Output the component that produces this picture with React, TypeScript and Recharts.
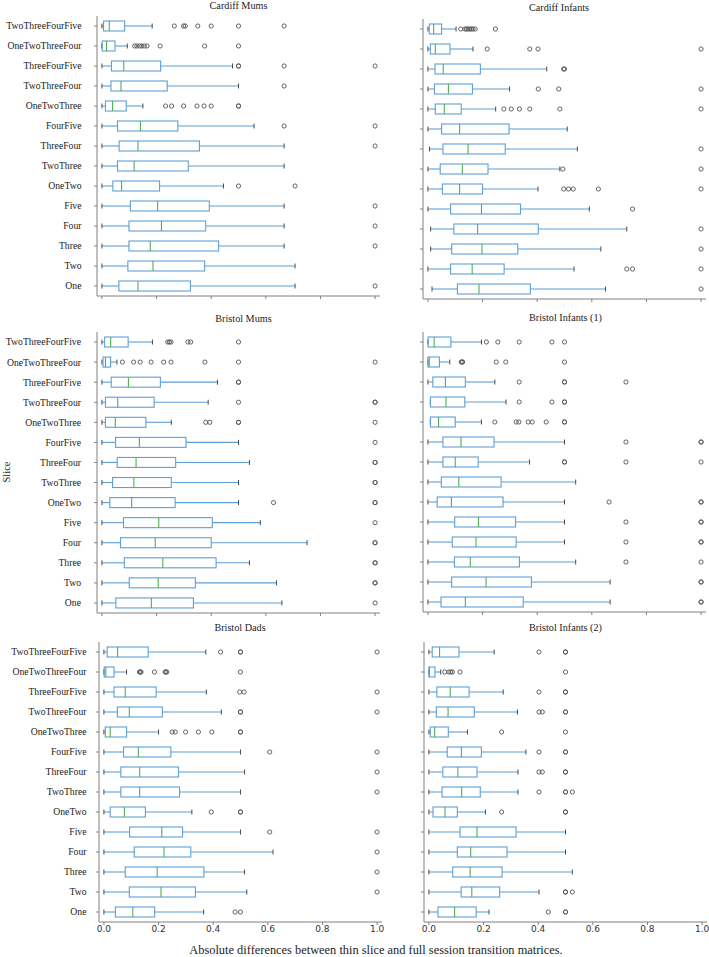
import { Bar, ComposedChart, XAxis, YAxis } from 'recharts';

const slices = [
  'TwoThreeFourFive',
  'OneTwoThreeFour',
  'ThreeFourFive',
  'TwoThreeFour',
  'OneTwoThree',
  'FourFive',
  'ThreeFour',
  'TwoThree',
  'OneTwo',
  'Five',
  'Four',
  'Three',
  'Two',
  'One',
];

const xTicks = [0, 0.2, 0.4, 0.6, 0.8, 1.0];

// each row: [whisker low, q1, median, q3, whisker high], top to bottom as in slices
const cardiffMumsBoxes = [
  [0, 0.006, 0.027, 0.083, 0.184],
  [0, 0.001, 0.017, 0.048, 0.093],
  [0, 0.035, 0.08, 0.215, 0.478],
  [0, 0.033, 0.07, 0.239, 0.5],
  [0, 0.013, 0.039, 0.089, 0.15],
  [0, 0.057, 0.141, 0.278, 0.557],
  [0, 0.063, 0.132, 0.357, 0.667],
  [0, 0.057, 0.118, 0.316, 0.667],
  [0, 0.04, 0.072, 0.211, 0.445],
  [0, 0.104, 0.204, 0.393, 0.667],
  [0, 0.099, 0.218, 0.38, 0.667],
  [0, 0.099, 0.177, 0.427, 0.667],
  [0, 0.095, 0.187, 0.376, 0.707],
  [0, 0.062, 0.132, 0.324, 0.707],
];
const cardiffMumsFliers = [
  [0.265, 0.299, 0.305, 0.351, 0.4, 0.5, 0.667],
  [0.12, 0.128, 0.138, 0.146, 0.155, 0.165, 0.213, 0.376, 0.5],
  [0.5, 0.5, 0.667, 1.0],
  [0.667],
  [0.233, 0.255, 0.299, 0.348, 0.374, 0.4, 0.5, 0.5],
  [0.667, 1.0],
  [1.0],
  [],
  [0.5, 0.707],
  [1.0],
  [1.0],
  [1.0],
  [],
  [1.0],
];

const cardiffInfantsBoxes = [
  [0, 0.005, 0.021, 0.05, 0.103],
  [0, 0.009, 0.027, 0.081, 0.165],
  [0, 0.026, 0.056, 0.192, 0.435],
  [0, 0.024, 0.075, 0.163, 0.299],
  [0, 0.027, 0.06, 0.122, 0.248],
  [0, 0.05, 0.116, 0.297, 0.51],
  [0.006, 0.055, 0.147, 0.283, 0.547],
  [0, 0.045, 0.126, 0.22, 0.483],
  [0, 0.053, 0.116, 0.2, 0.403],
  [0, 0.083, 0.196, 0.339, 0.591],
  [0.01, 0.095, 0.182, 0.404, 0.728],
  [0.01, 0.087, 0.198, 0.329, 0.633],
  [0, 0.083, 0.162, 0.279, 0.535],
  [0.015, 0.108, 0.187, 0.375, 0.65],
];
const cardiffInfantsFliers = [
  [0.12, 0.135, 0.141, 0.147, 0.153, 0.159, 0.165, 0.173, 0.247],
  [0.217, 0.373, 0.403, 1.0],
  [0.497, 0.5],
  [0.404, 0.479, 1.0],
  [0.278, 0.305, 0.335, 0.373, 0.483, 1.0],
  [],
  [1.0],
  [0.494, 1.0],
  [0.497, 0.515, 0.532, 0.624, 1.0],
  [0.749],
  [1.0],
  [1.0],
  [0.728, 0.749, 1.0],
  [1.0],
];

const bristolMumsBoxes = [
  [0, 0.01, 0.032, 0.096, 0.185],
  [0, 0.004, 0.013, 0.032, 0.055],
  [0, 0.034, 0.097, 0.214, 0.423],
  [0, 0.013, 0.058, 0.191, 0.389],
  [0, 0.013, 0.049, 0.161, 0.254],
  [0, 0.05, 0.137, 0.308, 0.5],
  [0, 0.056, 0.125, 0.27, 0.54],
  [0, 0.039, 0.117, 0.254, 0.5],
  [0, 0.029, 0.109, 0.268, 0.5],
  [0, 0.079, 0.208, 0.404, 0.58],
  [0, 0.068, 0.195, 0.4, 0.751],
  [0, 0.082, 0.223, 0.418, 0.54],
  [0, 0.1, 0.206, 0.342, 0.639],
  [0, 0.051, 0.181, 0.335, 0.659],
];
const bristolMumsFliers = [
  [0.241, 0.247, 0.253, 0.315, 0.325, 0.5],
  [0.075, 0.116, 0.14, 0.18, 0.226, 0.253, 0.377, 0.5, 1.0],
  [0.5, 0.5],
  [0.5, 1.0, 1.0],
  [0.38, 0.395, 0.5, 0.5, 1.0],
  [1.0],
  [1.0, 1.0],
  [1.0, 1.0],
  [0.628, 1.0, 1.0],
  [1.0],
  [1.0, 1.0],
  [1.0, 1.0],
  [1.0, 1.0],
  [1.0],
];

const bristolInfants1Boxes = [
  [0, 0.001, 0.023, 0.084, 0.196],
  [0, 0.0, 0.005, 0.042, 0.08],
  [0, 0.018, 0.064, 0.137, 0.245],
  [0.009, 0.009, 0.066, 0.135, 0.286],
  [0.009, 0.009, 0.039, 0.1, 0.196],
  [0, 0.055, 0.121, 0.242, 0.5],
  [0, 0.055, 0.1, 0.184, 0.372],
  [0, 0.049, 0.113, 0.268, 0.541],
  [0, 0.034, 0.086, 0.275, 0.5],
  [0, 0.098, 0.185, 0.321, 0.5],
  [0, 0.089, 0.176, 0.323, 0.5],
  [0, 0.097, 0.155, 0.335, 0.541],
  [0, 0.087, 0.213, 0.379, 0.667],
  [0, 0.048, 0.137, 0.349, 0.667],
];
const bristolInfants1Fliers = [
  [0.214, 0.256, 0.334, 0.454, 0.5],
  [0.122, 0.125, 0.127, 0.25, 0.285, 0.5],
  [0.334, 0.5, 0.5, 0.725],
  [0.334, 0.454, 0.5, 0.5],
  [0.245, 0.323, 0.333, 0.367, 0.382, 0.433, 0.5, 0.5],
  [0.725, 1.0, 1.0],
  [0.5, 0.5, 0.725, 1.0],
  [],
  [0.663, 1.0, 1.0],
  [0.725, 1.0, 1.0],
  [0.725, 1.0, 1.0],
  [0.725, 1.0],
  [1.0, 1.0],
  [1.0, 1.0],
];

const bristolDadsBoxes = [
  [0, 0.012, 0.05, 0.162, 0.373],
  [0, 0.001, 0.007, 0.037, 0.083],
  [0, 0.037, 0.078, 0.191, 0.375],
  [0, 0.049, 0.093, 0.214, 0.43],
  [0, 0.005, 0.023, 0.083, 0.2],
  [0, 0.072, 0.126, 0.245, 0.5],
  [0, 0.062, 0.131, 0.273, 0.515],
  [0, 0.062, 0.131, 0.277, 0.5],
  [0, 0.023, 0.075, 0.152, 0.322],
  [0, 0.094, 0.212, 0.288, 0.5],
  [0, 0.111, 0.22, 0.318, 0.619],
  [0, 0.078, 0.195, 0.366, 0.515],
  [0, 0.093, 0.209, 0.335, 0.523],
  [0, 0.042, 0.106, 0.186, 0.365],
];
const bristolDadsFliers = [
  [0.427, 0.5, 0.5, 1.0],
  [0.13, 0.133, 0.136, 0.185, 0.224, 0.227, 0.23, 0.5],
  [0.497, 0.513, 1.0],
  [0.5, 0.5, 1.0],
  [0.25, 0.261, 0.299, 0.346, 0.395, 0.5, 0.5],
  [0.607, 1.0],
  [1.0],
  [1.0],
  [0.393, 0.5, 0.5],
  [0.607, 1.0],
  [1.0],
  [1.0],
  [1.0],
  [0.48, 0.5],
];

const bristolInfants2Boxes = [
  [0, 0.012, 0.039, 0.11, 0.239],
  [0, 0.0, 0.002, 0.022, 0.043],
  [0, 0.029, 0.078, 0.147, 0.272],
  [0, 0.027, 0.07, 0.166, 0.324],
  [0, 0.005, 0.021, 0.071, 0.141],
  [0, 0.067, 0.119, 0.192, 0.355],
  [0, 0.051, 0.106, 0.176, 0.326],
  [0, 0.048, 0.12, 0.188, 0.326],
  [0, 0.015, 0.059, 0.104, 0.207],
  [0, 0.114, 0.176, 0.319, 0.5],
  [0, 0.104, 0.153, 0.286, 0.5],
  [0, 0.087, 0.151, 0.268, 0.525],
  [0, 0.118, 0.157, 0.259, 0.403],
  [0, 0.033, 0.094, 0.173, 0.22],
];
const bristolInfants2Fliers = [
  [0.403, 0.5, 0.5],
  [0.058, 0.073, 0.08, 0.086, 0.114, 0.5],
  [0.403, 0.5, 0.5],
  [0.403, 0.415, 0.5, 0.5],
  [0.266, 0.5],
  [0.403, 0.5, 0.5],
  [0.403, 0.415, 0.5, 0.5],
  [0.403, 0.5, 0.5, 0.525],
  [0.266, 0.5, 0.5],
  [],
  [],
  [],
  [0.5, 0.5, 0.525],
  [0.437, 0.5, 0.5],
];

const BOX = '#5d9fd6';
const MEDIAN = '#4fb04f';
const CAP = '#4a4a4a';
const FLIER = '#555555';
const FRAME = '#808080';
const SERIF = '"Liberation Serif", "Times New Roman", serif';
const SANS = '"DejaVu Sans", sans-serif';

const PLOT_W = 283;
const DOMAIN: [number, number] = [-0.018, 1.018];

// layout of the six panels (page pixels of the plot frame)
const panels = [
  { title: 'Cardiff Mums', boxes: cardiffMumsBoxes, fliers: cardiffMumsFliers, left: 97, top: 16, h: 280, labels: true, labelGap: 12.5, bottom: false, titleX: 238.5, titleY: 6 },
  { title: 'Cardiff Infants', boxes: cardiffInfantsBoxes, fliers: cardiffInfantsFliers, left: 423, top: 19, h: 280, labels: false, labelGap: 0, bottom: false, titleX: 559, titleY: 8 },
  { title: 'Bristol Mums', boxes: bristolMumsBoxes, fliers: bristolMumsFliers, left: 97, top: 332, h: 281, labels: true, labelGap: 13, bottom: false, titleX: 243.5, titleY: 319 },
  { title: 'Bristol Infants (1)', boxes: bristolInfants1Boxes, fliers: bristolInfants1Fliers, left: 423, top: 332, h: 280, labels: false, labelGap: 0, bottom: false, titleX: 565.5, titleY: 318 },
  { title: 'Bristol Dads', boxes: bristolDadsBoxes, fliers: bristolDadsFliers, left: 99, top: 642, h: 280, labels: true, labelGap: 9.5, bottom: true, titleX: 240, titleY: 628 },
  { title: 'Bristol Infants (2)', boxes: bristolInfants2Boxes, fliers: bristolInfants2Fliers, left: 424, top: 642, h: 280, labels: false, labelGap: 0, bottom: true, titleX: 565.5, titleY: 628 },
];

function BoxShape(props: any) {
  const { x, y, width, height, payload } = props;
  const { lo, q1, med, q3, hi, fliers } = payload;
  // the bar spans lo..hi on the x scale; place the other stats on that same linear scale
  const px = (v: number) => x + ((v - lo) / (hi - lo)) * width;
  const cy = y + height / 2;
  const cap = height / 4;
  return (
    <g>
      <line x1={px(lo)} x2={px(q1)} y1={cy} y2={cy} stroke={BOX} strokeWidth={1.1} />
      <line x1={px(q3)} x2={px(hi)} y1={cy} y2={cy} stroke={BOX} strokeWidth={1.1} />
      <line x1={px(lo)} x2={px(lo)} y1={cy - cap} y2={cy + cap} stroke={CAP} strokeWidth={1} />
      <line x1={px(hi)} x2={px(hi)} y1={cy - cap} y2={cy + cap} stroke={CAP} strokeWidth={1} />
      <rect
        x={px(q1)}
        y={y}
        width={Math.max(px(q3) - px(q1), 0.5)}
        height={height}
        fill="none"
        stroke={BOX}
        strokeWidth={1.1}
      />
      <line x1={px(med)} x2={px(med)} y1={y} y2={y + height} stroke={MEDIAN} strokeWidth={1.1} />
      {fliers.map((v: number, i: number) => (
        <circle key={i} cx={px(v)} cy={cy} r={2.1} fill="none" stroke={FLIER} strokeWidth={0.9} />
      ))}
    </g>
  );
}

function Panel({ p }: { p: (typeof panels)[number] }) {
  const rows = slices.map((name, i) => {
    const [lo, q1, med, q3, hi] = p.boxes[i];
    return { name, range: [lo, hi], lo, q1, med, q3, hi, fliers: p.fliers[i] };
  });
  const yw = p.labels ? p.left : 6;
  const xh = p.bottom ? 20 : 6;
  return (
    <div style={{ position: 'absolute', left: p.left - yw, top: p.top - 2 }}>
      <ComposedChart
        width={yw + PLOT_W + 2}
        height={2 + p.h + xh}
        data={rows}
        layout="vertical"
        margin={{ top: 2, right: 2, bottom: 0, left: 0 }}
        barCategoryGap="25%"
      >
        <XAxis
          xAxisId="b"
          type="number"
          domain={DOMAIN}
          allowDataOverflow
          ticks={xTicks}
          interval={0}
          height={xh}
          stroke={FRAME}
          tickSize={3}
          tickMargin={1}
          tick={{ fontSize: 9, fill: '#333', fontFamily: SANS }}
          tickFormatter={(v: number) => (p.bottom ? v.toFixed(1) : '')}
        />
        <XAxis
          xAxisId="t"
          orientation="top"
          type="number"
          domain={DOMAIN}
          allowDataOverflow
          height={0}
          tick={false}
          tickLine={false}
          stroke={FRAME}
        />
        <YAxis
          yAxisId="l"
          type="category"
          dataKey="name"
          width={yw}
          interval={0}
          stroke={FRAME}
          tickSize={3}
          tickMargin={p.labelGap}
          tick={{ fontSize: 9.7, fill: '#222', fontFamily: SERIF }}
          tickFormatter={(v: string) => (p.labels ? v : '')}
        />
        <YAxis
          yAxisId="r"
          orientation="right"
          type="category"
          dataKey="name"
          width={0}
          tick={false}
          tickLine={false}
          stroke={FRAME}
        />
        <Bar xAxisId="b" yAxisId="l" dataKey="range" shape={BoxShape} isAnimationActive={false} />
      </ComposedChart>
    </div>
  );
}

export default function App() {
  return (
    <div
      style={{
        position: 'absolute',
        left: 0,
        top: 0,
        width: 709,
        height: 957,
        background: '#fff',
        fontFamily: SERIF,
        color: '#222',
      }}
    >
      {panels.map((p) => (
        <div key={p.title}>
          <Panel p={p} />
          <div
            style={{
              position: 'absolute',
              left: p.titleX - 100,
              top: p.titleY - 6,
              width: 200,
              height: 12,
              lineHeight: '12px',
              textAlign: 'center',
              fontSize: 10.2,
            }}
          >
            {p.title}
          </div>
        </div>
      ))}
      <div
        style={{
          position: 'absolute',
          left: 7,
          top: 472,
          fontSize: 10.5,
          lineHeight: '12px',
          whiteSpace: 'nowrap',
          transform: 'translate(-50%, -50%) rotate(-90deg)',
        }}
      >
        Slice
      </div>
      <div
        style={{
          position: 'absolute',
          left: 76,
          top: 943,
          width: 600,
          height: 14,
          lineHeight: '14px',
          textAlign: 'center',
          fontSize: 12.4,
          whiteSpace: 'nowrap',
        }}
      >
        Absolute differences between thin slice and full session transition matrices.
      </div>
    </div>
  );
}
